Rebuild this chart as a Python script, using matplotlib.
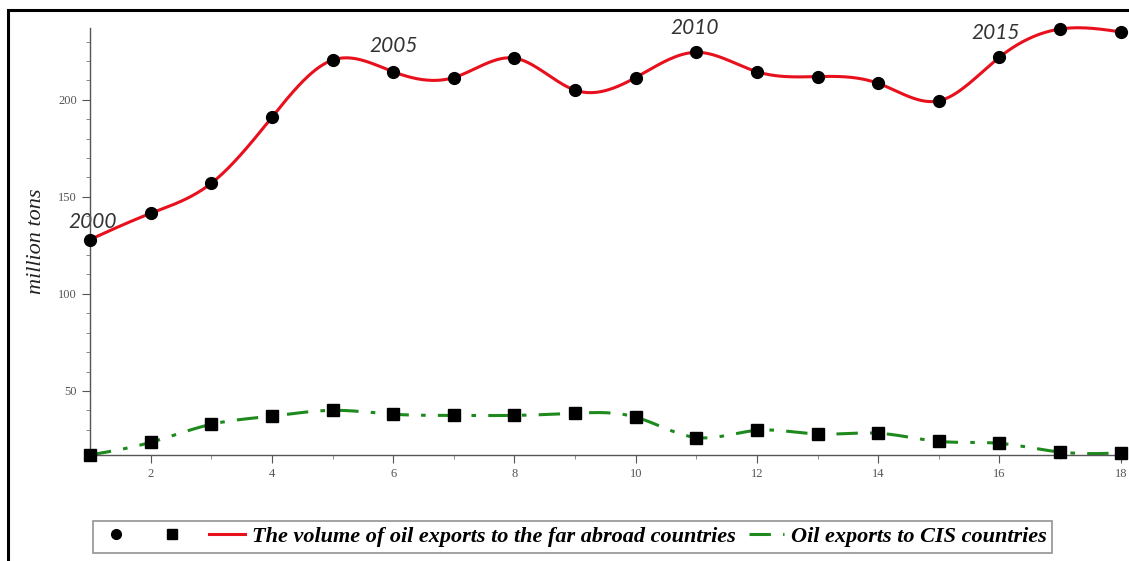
import numpy as np
import matplotlib
matplotlib.use('Agg')
import matplotlib.pyplot as plt
from matplotlib.lines import Line2D
from matplotlib.patches import Rectangle
from matplotlib.ticker import MultipleLocator

# data (x = year index, 1 = 2000)
years = np.arange(1, 19)
far_abroad = [128, 141.5, 157, 191, 220.5, 214.5, 211.5, 221.5, 205, 211.5,
              224.5, 214.5, 212, 208.5, 199.5, 222, 236.5, 235]
cis = [17, 23.5, 32.8, 37, 40, 38, 37.4, 37.4, 38.5, 36.5,
       26, 29.7, 27.8, 28.2, 24, 23, 18.5, 18]
year_labels = ['2000', '2005', '2010', '2015']

label_far = 'The volume of oil exports to the far abroad countries'
label_cis = 'Oil exports to CIS countries'


def spline(x, y, n=600):
    # natural cubic spline, only used to draw the smooth curve through the points
    x = np.asarray(x, float)
    y = np.asarray(y, float)
    k = len(x)
    h = np.diff(x)
    A = np.zeros((k, k))
    r = np.zeros(k)
    A[0, 0] = 1
    A[-1, -1] = 1
    for i in range(1, k - 1):
        A[i, i - 1] = h[i - 1]
        A[i, i] = 2 * (h[i - 1] + h[i])
        A[i, i + 1] = h[i]
        r[i] = 6 * ((y[i + 1] - y[i]) / h[i] - (y[i] - y[i - 1]) / h[i - 1])
    M = np.linalg.solve(A, r)
    xs = np.linspace(x[0], x[-1], n)
    idx = np.clip(np.searchsorted(x, xs) - 1, 0, k - 2)
    x0, x1 = x[idx], x[idx + 1]
    hh = x1 - x0
    t0 = x1 - xs
    t1 = xs - x0
    ys = (M[idx] * t0 ** 3 / (6 * hh) + M[idx + 1] * t1 ** 3 / (6 * hh)
          + (y[idx] / hh - M[idx] * hh / 6) * t0
          + (y[idx + 1] / hh - M[idx + 1] * hh / 6) * t1)
    return xs, ys


fig = plt.figure(figsize=(11.29, 5.61), dpi=100)
ax = fig.add_axes([0.0797, 0.189, 0.913, 0.761])

red = '#e8101c'
green = '#1e8a1e'
dash_dot = (7, 4, 1.5, 4)

xs, ys = spline(years, far_abroad)
ax.plot(xs, ys, color=red, lw=2.2, zorder=2, clip_on=False)
xs, ys = spline(years, cis)
ax.plot(xs, ys, color=green, lw=2.2, dashes=dash_dot, zorder=2, clip_on=False)
ax.plot(years, far_abroad, 'o', color='black', ms=8.5, zorder=3, clip_on=False)
ax.plot(years, cis, 's', color='black', ms=8, zorder=3, clip_on=False)

ax.set_xlim(1, 18)
ax.set_ylim(17, 237)
ax.xaxis.set_major_locator(MultipleLocator(2))
ax.xaxis.set_minor_locator(MultipleLocator(1))
ax.yaxis.set_major_locator(MultipleLocator(50))
ax.yaxis.set_minor_locator(MultipleLocator(10))
for s in ['top', 'right']:
    ax.spines[s].set_visible(False)
for s in ['left', 'bottom']:
    ax.spines[s].set_color('#555555')
    ax.spines[s].set_linewidth(1)
ax.tick_params(which='major', length=6, color='#555555', labelsize=9,
               labelcolor='#555555')
ax.tick_params(which='minor', length=3, color='#777777')
ax.set_xticks([2, 4, 6, 8, 10, 12, 14, 16, 18])
ax.set_yticks([50, 100, 150, 200])
for lab in ax.get_xticklabels() + ax.get_yticklabels():
    lab.set_family('Liberation Serif')

ax.set_ylabel('million tons', family='Liberation Serif', style='italic',
              fontsize=16, color='#222222', labelpad=9)

# year annotations
ann_pos = [(1.05, 137), (6.0, 227.5), (10.98, 237), (15.94, 234.5)]
for txt, (px, py) in zip(year_labels, ann_pos):
    ax.text(px, py, txt, family='Lato', style='italic', fontsize=15,
            color='#333333', ha='center', va='center', zorder=1)

handles = [Line2D([], [], ls='none', marker='o', color='black', ms=7),
           Line2D([], [], ls='none', marker='s', color='black', ms=6.5),
           Line2D([], [], color=red, lw=2.2),
           Line2D([], [], color=green, lw=2.2, dashes=dash_dot)]
leg = fig.legend(handles, ['', '', label_far, label_cis], ncol=4,
                 loc='center', bbox_to_anchor=(0.507, 0.043),
                 prop={'family': 'Liberation Serif', 'style': 'italic',
                       'weight': 'bold', 'size': 16},
                 frameon=True, fancybox=False, shadow=False,
                 handlelength=1.6, handletextpad=0.3, columnspacing=0.6,
                 borderpad=0.25)
leg.get_frame().set_edgecolor('#777777')
leg.get_frame().set_linewidth(1.2)

# outer frame of the picture
fig.add_artist(Rectangle((8 / 1129, -0.05), 1.2, 1 - 10 / 561 + 0.05,
                         transform=fig.transFigure, fill=False,
                         edgecolor='black', lw=2.2, clip_on=False))

fig.savefig('out.png', dpi=100)
